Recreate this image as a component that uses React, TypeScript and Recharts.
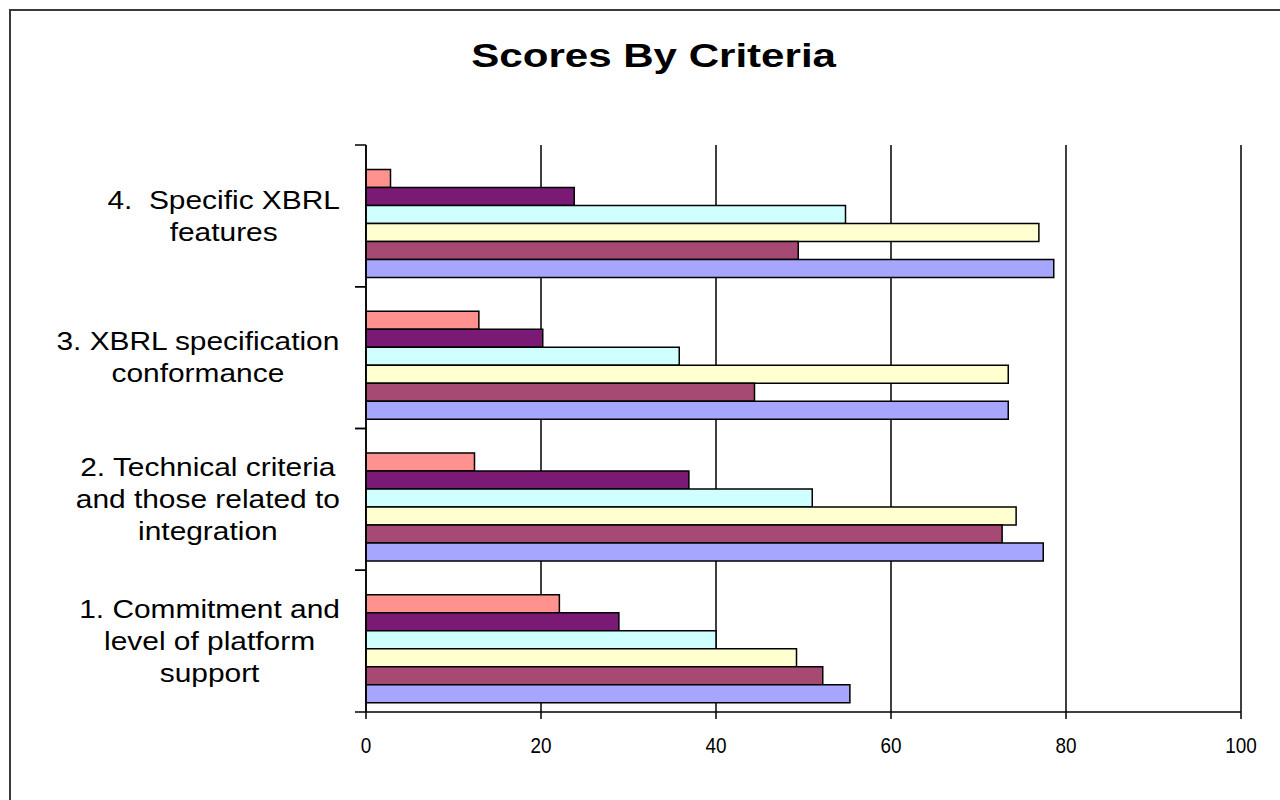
import React from "react";
import {
  BarChart,
  Bar,
  XAxis,
  YAxis,
  CartesianGrid,
} from "recharts";

const categories = [
  "1. Commitment and\nlevel of platform\nsupport",
  "2. Technical criteria\nand those related to\nintegration",
  "3. XBRL specification\nconformance",
  "4.  Specific XBRL\nfeatures",
];

// series 1 is drawn at the bottom of each group, series 6 at the top
const series1 = [55.3, 77.4, 73.4, 78.6];
const series2 = [52.2, 72.7, 44.4, 49.4];
const series3 = [49.2, 74.3, 73.4, 76.9];
const series4 = [40.0, 51.0, 35.8, 54.8];
const series5 = [28.9, 36.9, 20.2, 23.8];
const series6 = [22.1, 12.4, 12.9, 2.8];

const xTicks = [0, 20, 40, 60, 80, 100];

const data = categories.map((name, i) => ({
  name,
  s1: series1[i],
  s2: series2[i],
  s3: series3[i],
  s4: series4[i],
  s5: series5[i],
  s6: series6[i],
}));

// top to bottom inside a group
const bars = [
  { key: "s6", name: "Series 6", color: "#FF928E" },
  { key: "s5", name: "Series 5", color: "#7B1A74" },
  { key: "s4", name: "Series 4", color: "#D0FFFF" },
  { key: "s3", name: "Series 3", color: "#FFFFD0" },
  { key: "s2", name: "Series 2", color: "#A64A73" },
  { key: "s1", name: "Series 1", color: "#A6A6FF" },
];

const FONT = '"Liberation Sans", Arial, sans-serif';
const LABEL_SIZE = 26;
const LABEL_STRETCH = 1.15;
const LABEL_MARGIN = 26;
const TICK_LEN = 11;

let measureCtx: CanvasRenderingContext2D | null = null;
function textWidth(s: string) {
  if (!measureCtx) {
    measureCtx = document.createElement("canvas").getContext("2d");
  }
  if (!measureCtx) return s.length * LABEL_SIZE * 0.5;
  measureCtx.font = `${LABEL_SIZE}px ${FONT}`;
  return measureCtx.measureText(s).width;
}

// label centred in its band, plus the tick marks on the band edges
function CategoryTick(props: any) {
  const { x, y, payload } = props;
  const lines: string[] = String(payload.value).split("\n");
  const maxW = Math.max(...lines.map(textWidth)) * LABEL_STRETCH;
  const cx = x - maxW / 2;
  const axisX = x + LABEL_MARGIN;
  const half = payload.offset ?? 0;
  return (
    <g>
      {half > 0 &&
        [y - half, y + half].map((ty, k) => (
          <line
            key={k}
            x1={axisX - TICK_LEN}
            x2={axisX}
            y1={ty}
            y2={ty}
            stroke="#000"
            strokeWidth={1.5}
          />
        ))}
      {lines.map((line, i) => (
        <g
          key={i}
          transform={`translate(${cx},${y + (i - (lines.length - 1) / 2) * 32}) scale(${LABEL_STRETCH},1)`}
        >
          <text
            x={0}
            y={0}
            textAnchor="middle"
            dominantBaseline="central"
            fontSize={LABEL_SIZE}
            fontFamily={FONT}
            fill="#000"
            style={{ whiteSpace: "pre" }}
          >
            {line}
          </text>
        </g>
      ))}
    </g>
  );
}

function ValueTick(props: any) {
  const { x, y, payload } = props;
  return (
    <g transform={`translate(${x},${y}) scale(0.86,1)`}>
      <text
        x={0}
        y={0}
        dy="0.71em"
        textAnchor="middle"
        fontSize={22}
        fontFamily={FONT}
        fill="#000"
      >
        {payload.value}
      </text>
    </g>
  );
}

export default function App() {
  return (
    <div style={{ position: "relative", width: 1280, height: 800, overflow: "hidden", background: "#fff" }}>
      <style>{`body{margin:0;overflow:hidden;background:#fff}`}</style>
      <div
        style={{
          position: "absolute",
          left: 9,
          top: 9,
          width: 1320,
          height: 830,
          border: "2px solid #3a3a3a",
        }}
      />
      <div
        style={{
          position: "absolute",
          left: 0,
          top: 36,
          width: 1307,
          textAlign: "center",
          fontFamily: FONT,
          fontWeight: "bold",
          fontSize: 34,
          color: "#000",
          transform: "scaleX(1.237)",
          transformOrigin: "653px 0",
        }}
      >
        Scores By Criteria
      </div>
      <div style={{ position: "absolute", left: 0, top: 0 }}>
        <BarChart
          width={1280}
          height={800}
          data={data}
          layout="vertical"
          margin={{ top: 145, right: 39, bottom: 28, left: 66 }}
          barCategoryGap="12%"
          barGap={0}
        >
          <CartesianGrid
            horizontal={false}
            stroke="#000"
            strokeWidth={1.5}
            yAxisId="labels"
          />
          <XAxis
            type="number"
            domain={[0, 100]}
            ticks={xTicks}
            interval={0}
            height={60}
            axisLine={{ stroke: "#000", strokeWidth: 1.5 }}
            tickLine={{ stroke: "#000", strokeWidth: 1.5 }}
            tickSize={7}
            tickMargin={18}
            tick={<ValueTick />}
          />
          <YAxis
            yAxisId="labels"
            type="category"
            dataKey="name"
            reversed
            width={300}
            axisLine={{ stroke: "#000", strokeWidth: 1.5 }}
            tickLine={false}
            tickSize={0}
            tickMargin={LABEL_MARGIN}
            interval={0}
            tick={<CategoryTick />}
          />
          <YAxis
            yAxisId="bars"
            orientation="right"
            type="category"
            dataKey="name"
            reversed
            hide
            padding={{ top: 7.5, bottom: -7.5 }}
          />
          {bars.map((b) => (
            <Bar
              key={b.key}
              yAxisId="bars"
              dataKey={b.key}
              name={b.name}
              fill={b.color}
              stroke="#000"
              strokeWidth={1.5}
              isAnimationActive={false}
            />
          ))}
        </BarChart>
      </div>
    </div>
  );
}
